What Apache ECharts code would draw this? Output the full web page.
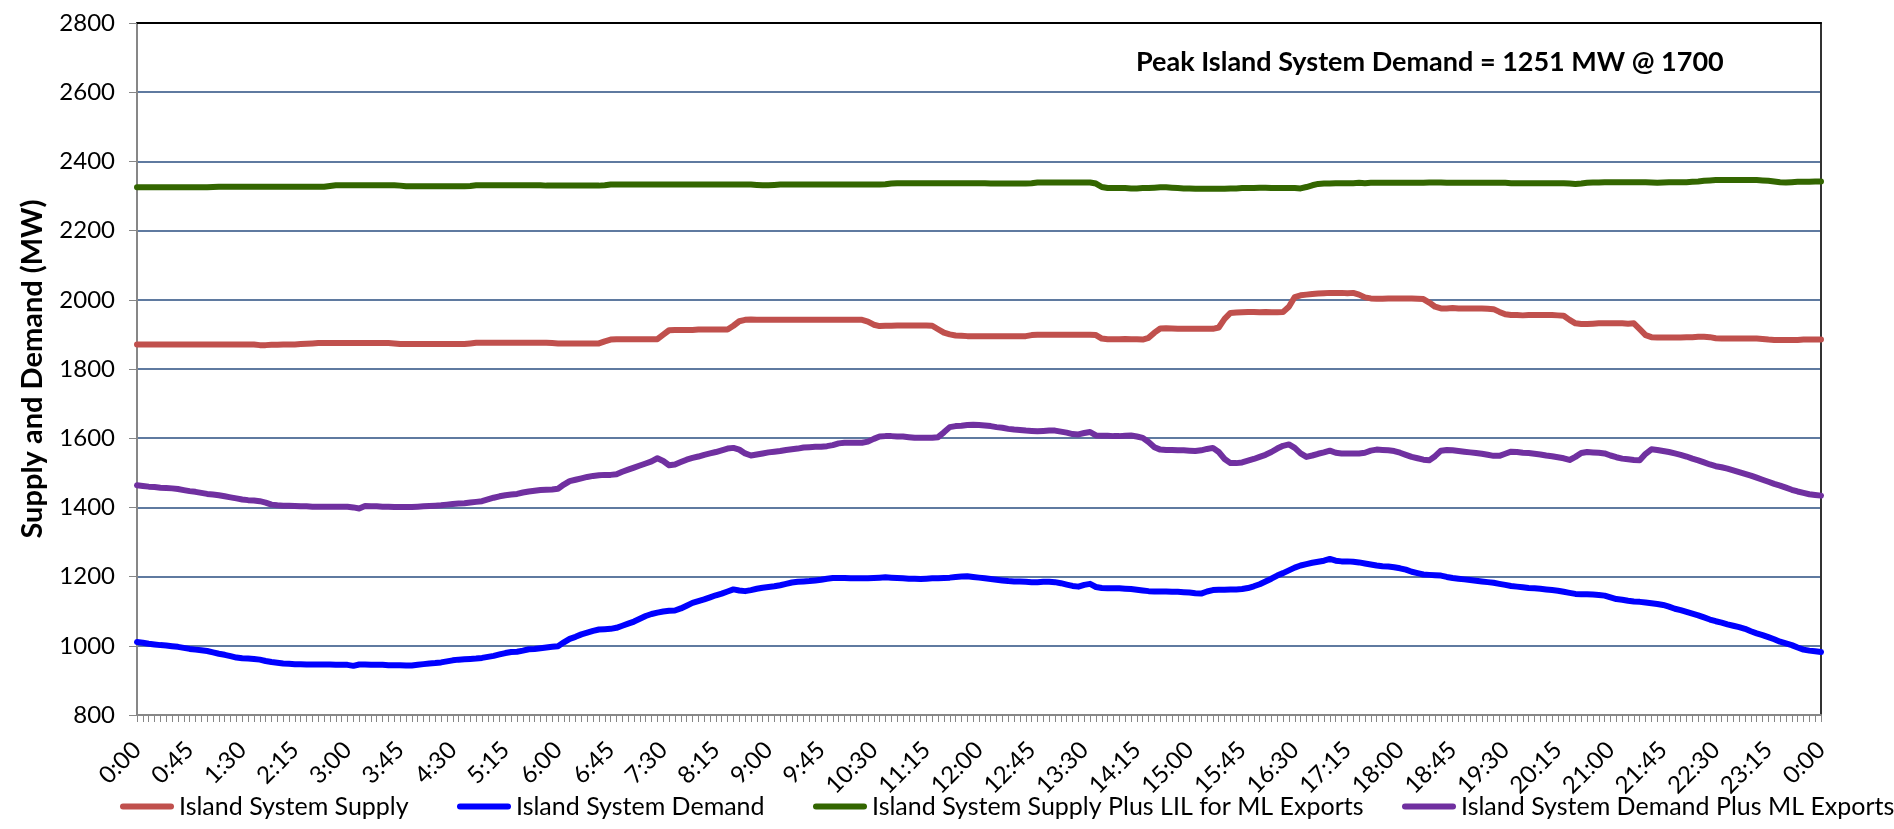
<!DOCTYPE html>
<html>
<head>
<meta charset="utf-8">
<script src="https://cdn.jsdelivr.net/npm/echarts@6/dist/echarts.min.js"></script>
<style>
  html, body { margin: 0; padding: 0; background: #fff; }
  #chart { width: 1894px; height: 829px; }
</style>
</head>
<body>
<div id="chart"></div>
<script>
// ---- categories (5-minute steps, 0:00 .. 0:00 next day) ----
const timeLabels = [];
for (let i = 0; i <= 288; i++) {
  const mins = i * 5;
  const h = Math.floor(mins / 60) % 24;
  const m = mins % 60;
  timeLabels.push(h + ':' + (m < 10 ? '0' + m : m));
}

const seriesNames = [
  'Island System Supply',
  'Island System Demand',
  'Island System Supply Plus LIL for ML Exports',
  'Island System Demand Plus ML Exports'
];

// ---- series values (MW), one value per 5 minutes, rows = hours ----
const islandSupply = [
  1871,1871,1871,1871,1871,1871,1871,1871,1871,1871,1871,1871,
  1871,1871,1871,1871,1871,1871,1871,1871,1871,1869,1869,1870,
  1870,1871,1871,1871,1872,1873,1874,1875,1875,1875,1875,1875,
  1875,1875,1875,1875,1875,1875,1875,1875,1874,1872,1872,1872,
  1872,1872,1872,1872,1872,1872,1872,1872,1872,1874,1876,1876,
  1876,1876,1876,1876,1876,1876,1876,1876,1876,1876,1876,1875,
  1874,1874,1874,1874,1874,1874,1874,1874,1880,1885,1886,1886,
  1886,1886,1886,1886,1886,1886,1899,1912,1913,1913,1913,1913,
  1914,1914,1914,1914,1914,1914,1925,1938,1942,1943,1942,1942,
  1942,1942,1942,1942,1942,1942,1942,1942,1942,1942,1942,1942,
  1942,1942,1942,1942,1942,1937,1928,1924,1925,1925,1926,1926,
  1926,1926,1926,1926,1925,1915,1905,1900,1897,1896,1895,1895,
  1895,1895,1895,1895,1895,1895,1895,1895,1895,1898,1899,1899,
  1899,1899,1899,1899,1899,1899,1899,1899,1898,1888,1886,1886,
  1886,1887,1886,1886,1885,1890,1905,1917,1918,1917,1916,1916,
  1916,1916,1916,1916,1916,1920,1945,1962,1963,1964,1965,1965,
  1964,1965,1964,1964,1965,1980,2008,2013,2015,2017,2018,2019,
  2020,2020,2020,2019,2020,2015,2007,2004,2003,2003,2004,2004,
  2004,2004,2004,2003,2002,1992,1980,1975,1975,1976,1975,1975,
  1975,1975,1975,1974,1973,1965,1958,1956,1956,1955,1956,1956,
  1956,1956,1956,1955,1954,1942,1932,1930,1930,1931,1932,1932,
  1932,1932,1932,1931,1932,1915,1898,1892,1891,1891,1891,1891,
  1891,1892,1892,1893,1893,1892,1889,1888,1888,1888,1888,1888,
  1888,1888,1887,1885,1884,1884,1884,1884,1884,1885,1885,1885,
  1885
];

const islandDemand = [
  1011,1009,1006,1004,1002,1001,999,997,994,991,989,987,
  985,981,977,974,970,966,964,963,962,960,956,953,
  951,949,948,947,947,946,946,946,946,946,945,945,
  945,942,946,946,945,945,945,944,944,944,943,943,
  945,947,949,950,952,955,958,960,961,962,963,965,
  968,971,975,979,982,983,986,990,991,993,995,997,
  999,1010,1020,1026,1033,1038,1043,1047,1048,1049,1052,1058,
  1064,1070,1078,1086,1092,1096,1099,1101,1102,1108,1116,1124,
  1129,1134,1140,1146,1151,1157,1163,1160,1158,1161,1165,1168,
  1170,1172,1175,1179,1183,1185,1186,1187,1189,1191,1194,1196,
  1196,1196,1195,1195,1195,1195,1196,1197,1198,1197,1196,1195,
  1194,1194,1193,1194,1195,1195,1196,1197,1199,1200,1201,1199,
  1197,1195,1193,1191,1189,1187,1186,1186,1185,1184,1184,1185,
  1185,1184,1181,1177,1173,1171,1176,1179,1170,1167,1166,1166,
  1166,1165,1164,1162,1160,1158,1157,1157,1157,1156,1156,1155,
  1154,1152,1151,1157,1161,1162,1162,1163,1163,1164,1167,1172,
  1178,1186,1194,1203,1210,1218,1226,1232,1236,1240,1243,1246,
  1251,1246,1244,1244,1243,1241,1238,1235,1232,1230,1229,1227,
  1224,1220,1214,1210,1206,1205,1204,1203,1199,1196,1194,1192,
  1190,1188,1186,1184,1182,1179,1176,1173,1171,1169,1167,1166,
  1165,1163,1161,1159,1156,1153,1150,1149,1149,1148,1147,1145,
  1140,1135,1133,1130,1128,1127,1125,1123,1121,1118,1113,1107,
  1103,1098,1093,1088,1082,1076,1071,1067,1062,1058,1054,1049,
  1042,1036,1031,1025,1019,1012,1007,1002,995,989,986,984,
  982
];

const supplyPlusLIL = [
  2325,2325,2325,2325,2325,2325,2325,2325,2325,2325,2325,2325,
  2325,2326,2327,2327,2327,2327,2327,2327,2327,2327,2327,2327,
  2327,2327,2327,2327,2327,2327,2327,2327,2327,2329,2331,2331,
  2331,2331,2331,2331,2331,2331,2331,2331,2331,2330,2328,2328,
  2328,2328,2328,2328,2328,2328,2328,2328,2328,2329,2331,2331,
  2331,2331,2331,2331,2331,2331,2331,2331,2331,2331,2330,2330,
  2330,2330,2330,2330,2330,2330,2330,2330,2331,2333,2333,2333,
  2333,2333,2333,2333,2333,2333,2333,2333,2333,2333,2333,2333,
  2333,2333,2333,2333,2333,2333,2333,2333,2333,2333,2332,2331,
  2331,2332,2333,2333,2333,2333,2333,2333,2333,2333,2333,2333,
  2333,2333,2333,2333,2333,2333,2333,2333,2334,2336,2337,2337,
  2337,2337,2337,2337,2337,2337,2337,2337,2337,2337,2337,2337,
  2337,2337,2336,2336,2336,2336,2336,2336,2336,2337,2339,2339,
  2339,2339,2339,2339,2339,2339,2339,2339,2336,2326,2323,2323,
  2323,2323,2322,2322,2323,2323,2324,2325,2325,2324,2323,2322,
  2322,2321,2321,2321,2321,2321,2321,2322,2322,2323,2323,2323,
  2324,2324,2323,2323,2323,2323,2323,2322,2326,2331,2335,2336,
  2336,2337,2337,2337,2337,2338,2337,2338,2338,2338,2338,2338,
  2338,2338,2338,2338,2338,2339,2339,2339,2338,2338,2338,2338,
  2338,2338,2338,2338,2338,2338,2338,2337,2337,2337,2337,2337,
  2337,2337,2337,2337,2337,2336,2335,2336,2338,2339,2339,2340,
  2340,2340,2340,2340,2340,2340,2340,2339,2338,2339,2340,2340,
  2340,2340,2341,2342,2344,2345,2346,2346,2346,2346,2346,2346,
  2346,2346,2345,2344,2342,2340,2339,2340,2341,2341,2341,2342,
  2342
];

const demandPlusML = [
  1464,1462,1460,1459,1457,1456,1455,1453,1450,1447,1445,1442,
  1439,1437,1435,1432,1429,1426,1423,1421,1420,1418,1414,1408,
  1406,1405,1405,1404,1403,1403,1402,1402,1402,1402,1402,1402,
  1402,1400,1397,1404,1403,1403,1402,1402,1401,1401,1401,1401,
  1402,1403,1404,1405,1406,1408,1410,1411,1412,1414,1416,1418,
  1423,1428,1432,1435,1437,1439,1443,1446,1448,1450,1451,1452,
  1454,1466,1476,1480,1484,1488,1491,1493,1494,1494,1496,1503,
  1509,1515,1521,1527,1533,1542,1534,1522,1524,1531,1538,1543,
  1547,1552,1556,1560,1565,1570,1572,1567,1556,1550,1553,1556,
  1559,1561,1563,1566,1568,1570,1573,1574,1575,1575,1577,1580,
  1585,1587,1587,1587,1587,1590,1598,1605,1606,1606,1605,1605,
  1603,1601,1601,1601,1601,1603,1617,1632,1635,1636,1638,1639,
  1638,1637,1635,1632,1630,1627,1625,1624,1622,1621,1620,1621,
  1622,1622,1619,1616,1612,1611,1615,1618,1608,1607,1607,1606,
  1606,1607,1608,1605,1601,1589,1574,1567,1566,1566,1565,1565,
  1564,1563,1565,1569,1572,1560,1540,1528,1528,1530,1535,1540,
  1546,1552,1560,1570,1578,1582,1572,1556,1546,1550,1555,1559,
  1564,1558,1556,1556,1556,1556,1558,1564,1567,1566,1565,1563,
  1558,1552,1546,1542,1538,1536,1548,1564,1566,1565,1563,1561,
  1559,1557,1555,1552,1549,1549,1555,1561,1560,1558,1557,1555,
  1553,1550,1548,1545,1542,1537,1546,1557,1560,1559,1558,1556,
  1550,1545,1541,1539,1537,1536,1555,1568,1566,1563,1560,1556,
  1552,1547,1541,1536,1530,1524,1519,1516,1512,1507,1502,1497,
  1492,1486,1480,1474,1468,1463,1457,1451,1446,1442,1438,1436,
  1434
];

const yTicks = { min: 800, max: 2800, interval: 200 };
const peakNote = 'Peak Island System Demand = 1251 MW @ 1700';

// ---- chart ----
const FONT = 'Lato';
const colors = ['#C0504D', '#0000FF', '#336600', '#7030A0'];
const values = [islandSupply, islandDemand, supplyPlusLIL, demandPlusML];
const legendLefts = [120, 457, 813, 1402];
const legendIcon = 'path://M3,0 L51,0 A3,3 0 0 1 51,6 L3,6 A3,3 0 0 1 3,0 Z';

const chart = echarts.init(document.getElementById('chart'), null, { renderer: 'canvas' });

const option = {
  animation: false,
  backgroundColor: '#ffffff',
  textStyle: { fontFamily: FONT },
  title: {
    text: peakNote,
    left: 1131,
    top: 44,
    textStyle: { fontFamily: FONT, fontWeight: 'bold', fontSize: 27, color: '#000' }
  },
  legend: seriesNames.map((n, i) => ({
    data: [n],
    left: legendLefts[i],
    top: 794,
    orient: 'horizontal',
    itemWidth: 54,
    itemHeight: 6,
    itemGap: 0,
    icon: legendIcon,
    textStyle: { fontFamily: FONT, fontSize: 25, color: '#000' },
    padding: 0,
    selectedMode: false
  })),
  grid: { left: 137, right: 73, top: 23, bottom: 114, containLabel: false },
  xAxis: [
    {
      type: 'category',
      data: timeLabels,
      boundaryGap: false,
      axisLine: { show: true, lineStyle: { color: '#878787', width: 2 } },
      axisTick: { show: true, interval: 0, length: 7, lineStyle: { color: '#878787', width: 1 } },
      axisLabel: {
        interval: 8,
        rotate: 45,
        margin: 31,
        fontFamily: FONT,
        fontSize: 24,
        color: '#000'
      },
      splitLine: { show: false }
    },
    {
      type: 'category',
      data: timeLabels,
      boundaryGap: false,
      position: 'top',
      axisLine: { show: true, lineStyle: { color: '#000', width: 2 } },
      axisTick: { show: false },
      axisLabel: { show: false },
      splitLine: { show: false }
    }
  ],
  yAxis: [
    {
      type: 'value',
      min: yTicks.min,
      max: yTicks.max,
      interval: yTicks.interval,
      name: 'Supply and Demand (MW)',
      nameLocation: 'middle',
      nameGap: 90,
      nameRotate: 90,
      nameTextStyle: { fontFamily: FONT, fontWeight: 'bold', fontSize: 29, color: '#000' },
      axisLine: { show: true, lineStyle: { color: '#878787', width: 2 } },
      axisTick: { show: true, length: 8, lineStyle: { color: '#878787', width: 1 } },
      axisLabel: { margin: 22, fontFamily: FONT, fontSize: 24, color: '#000', formatter: v => String(v) },
      splitLine: { show: true, lineStyle: { color: '#2A4E80', width: 1.6 } }
    },
    {
      type: 'value',
      min: yTicks.min,
      max: yTicks.max,
      interval: yTicks.interval,
      position: 'right',
      axisLine: { show: true, lineStyle: { color: '#333', width: 2 } },
      axisTick: { show: false },
      axisLabel: { show: false },
      splitLine: { show: false }
    }
  ],
  series: seriesNames.map((n, i) => ({
    name: n,
    type: 'line',
    xAxisIndex: 0,
    yAxisIndex: 0,
    data: values[i],
    symbol: 'none',
    showSymbol: false,
    smooth: false,
    lineStyle: { color: colors[i], width: 6, cap: 'round', join: 'round' },
    itemStyle: { color: colors[i] },
    z: 3 + i
  }))
};

chart.setOption(option);
</script>
</body>
</html>
